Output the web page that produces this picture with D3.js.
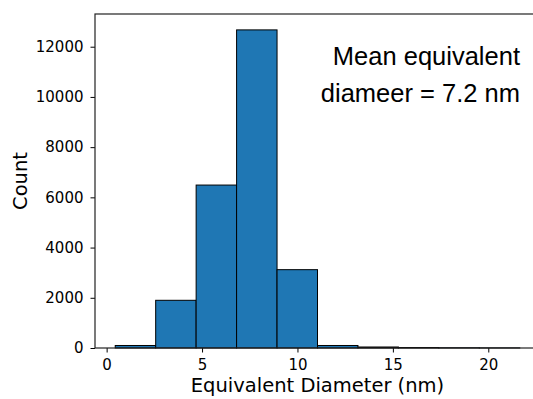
<!DOCTYPE html>
<html>
<head>
<meta charset="utf-8">
<script src="https://cdn.jsdelivr.net/npm/d3@7"></script>
<style>
  body { margin: 0; background: #fff; }
  svg { display: block; }
</style>
</head>
<body>
<div id="chart"></div>
<script>
// histogram bins
let binEdges = [0.45, 2.57, 4.69, 6.81, 8.93, 11.05, 13.17, 15.29, 17.41, 19.53, 21.65]
let counts = [100, 1900, 6490, 12670, 3120, 100, 40, 20, 10, 5]
let xTicks = [0, 5, 10, 15, 20]
let yTicks = [0, 2000, 4000, 6000, 8000, 10000, 12000]

let bins = counts.map((c, i) => ({ x0: binEdges[i], x1: binEdges[i + 1], count: c }))

let width = 533, height = 399
let plotLeft = 95, plotRight = 540, plotTop = 14, plotBottom = 348

let svg = d3.select("#chart")
  .append("svg")
  .attr("width", width)
  .attr("height", height)
  .style("font-family", "DejaVu Sans")

let x = d3.scaleLinear().domain([-0.61, 22.71]).range([plotLeft, plotRight])
let y = d3.scaleLinear().domain([0, 13303]).range([plotBottom, plotTop])

svg.selectAll("rect.bar")
  .data(bins)
  .join("rect")
  .attr("class", "bar")
  .attr("x", d => x(d.x0))
  .attr("y", d => y(d.count))
  .attr("width", d => x(d.x1) - x(d.x0))
  .attr("height", d => y(0) - y(d.count))
  .attr("fill", "#1f77b4")
  .attr("stroke", "#000")
  .attr("stroke-width", 1)

// axes
let xAxis = svg.append("g")
  .attr("transform", `translate(0,${plotBottom})`)
  .call(d3.axisBottom(x).tickValues(xTicks).tickSize(4.5).tickPadding(7).tickFormat(d3.format("d")))
let yAxis = svg.append("g")
  .attr("transform", `translate(${plotLeft},0)`)
  .call(d3.axisLeft(y).tickValues(yTicks).tickSize(4.5).tickPadding(7).tickFormat(d => d))

for (let ax of [xAxis, yAxis]) {
  ax.select(".domain").remove()
  ax.selectAll("text").attr("font-size", 15).attr("font-family", "DejaVu Sans").attr("fill", "#000")
  ax.selectAll("line").attr("stroke", "#000").attr("stroke-width", 1)
}

// spines (right one falls outside the window)
svg.append("rect")
  .attr("x", plotLeft)
  .attr("y", plotTop)
  .attr("width", plotRight - plotLeft)
  .attr("height", plotBottom - plotTop)
  .attr("fill", "none")
  .attr("stroke", "#222")
  .attr("stroke-width", 1.2)

svg.append("text")
  .attr("x", (192 + 443) / 2)
  .attr("y", 392)
  .attr("text-anchor", "middle")
  .attr("font-size", 19.5)
  .text("Equivalent Diameter (nm)")

svg.append("text")
  .attr("transform", `translate(27,${(plotTop + plotBottom) / 2}) rotate(-90)`)
  .attr("text-anchor", "middle")
  .attr("font-size", 19.5)
  .text("Count")

let note = svg.append("text")
  .attr("text-anchor", "end")
  .attr("font-family", "Liberation Sans, Arial, sans-serif")
  .attr("font-size", 25.5)
note.append("tspan").attr("x", 520).attr("y", 65).text("Mean equivalent")
note.append("tspan").attr("x", 520).attr("y", 101.5).text("diameer = 7.2 nm")
</script>
</body>
</html>
